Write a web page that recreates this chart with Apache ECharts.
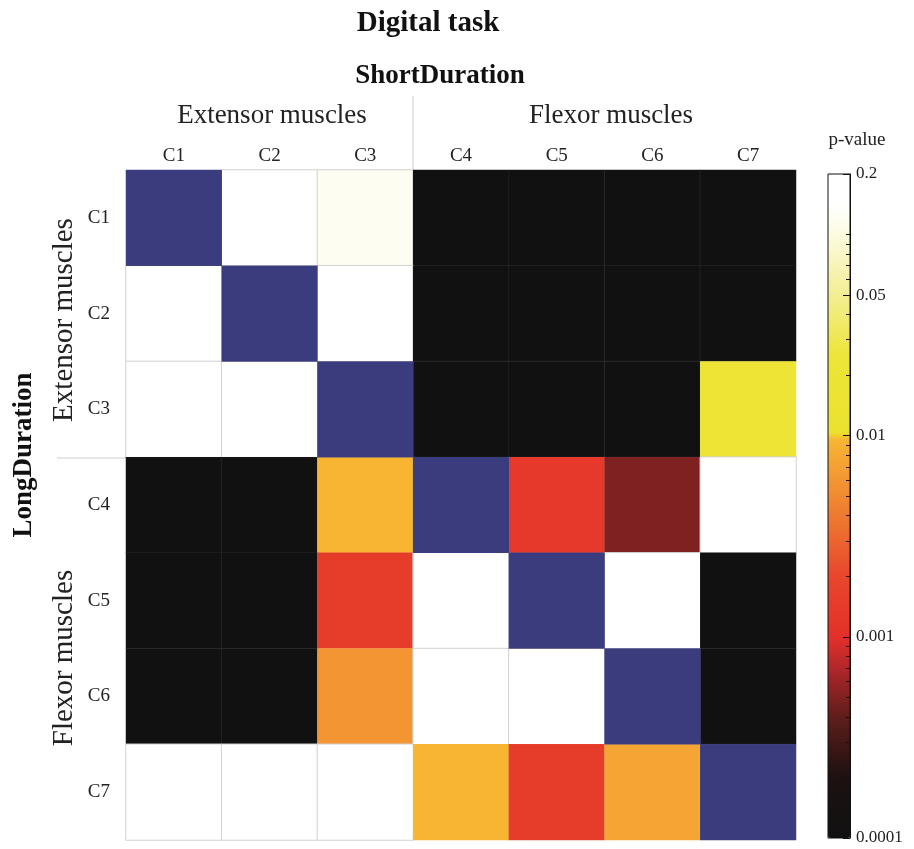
<!DOCTYPE html>
<html>
<head>
<meta charset="utf-8">
<script src="https://cdn.jsdelivr.net/npm/echarts@6/dist/echarts.min.js"></script>
<style>
  html, body { margin: 0; padding: 0; background: #fff; }
  #chart { width: 914px; height: 849px; }
</style>
</head>
<body>
<div id="chart"></div>
<script>
// ShortDuration (columns) vs LongDuration (rows) components
const shortCols = ['C1', 'C2', 'C3', 'C4', 'C5', 'C6', 'C7'];
const longRows = ['C1', 'C2', 'C3', 'C4', 'C5', 'C6', 'C7'];

// p-values, row = LongDuration, col = ShortDuration
// null = diagonal (same component)
const pRow1 = [null, 0.2, 0.12, 0.0001, 0.0001, 0.0001, 0.0001];
const pRow2 = [0.2, null, 0.2, 0.0001, 0.0001, 0.0001, 0.0001];
const pRow3 = [0.2, 0.2, null, 0.0001, 0.0001, 0.0001, 0.02];
const pRow4 = [0.0001, 0.0001, 0.0095, null, 0.0013, 0.0005, 0.2];
const pRow5 = [0.0001, 0.0001, 0.0015, 0.2, null, 0.2, 0.0001];
const pRow6 = [0.0001, 0.0001, 0.006, 0.2, 0.2, null, 0.0001];
const pRow7 = [0.2, 0.2, 0.2, 0.0095, 0.0015, 0.0075, null];
const pRows = [pRow1, pRow2, pRow3, pRow4, pRow5, pRow6, pRow7];

// colorbar
const pMin = 0.0001;
const pMax = 0.2;
const cbarLabels = [0.2, 0.05, 0.01, 0.001, 0.0001];

const FONT = 'Liberation Serif';
const LOG_MIN = Math.log10(pMin);
const LOG_MAX = Math.log10(pMax);

// colormap anchors in log10(p)
const cmapStops = [
  [-4.0, '#111111'],
  [-3.7, '#1c1111'],
  [-3.4, '#5e1d1b'],
  [-3.15, '#b3272a'],
  [-3.0, '#e43029'],
  [-2.7, '#e8462d'],
  [-2.4, '#ee7a30'],
  [-2.15, '#f4a133'],
  [-2.005, '#f8b832'],
  [-1.995, '#ebe22f'],
  [-1.6, '#ede538'],
  [-1.3, '#f3ee94'],
  [-1.0, '#fcfbe0'],
  [-0.85, '#ffffff'],
  [LOG_MAX, '#ffffff']
];

function hex2rgb(h) {
  return [parseInt(h.slice(1, 3), 16), parseInt(h.slice(3, 5), 16), parseInt(h.slice(5, 7), 16)];
}
function sampleCmap(n) {
  const out = [];
  for (let i = 0; i < n; i++) {
    const v = LOG_MIN + (LOG_MAX - LOG_MIN) * i / (n - 1);
    let k = 0;
    while (k < cmapStops.length - 2 && v > cmapStops[k + 1][0]) k++;
    const [v0, c0] = cmapStops[k];
    const [v1, c1] = cmapStops[k + 1];
    const t = Math.min(1, Math.max(0, (v - v0) / (v1 - v0)));
    const a = hex2rgb(c0), b = hex2rgb(c1);
    const c = a.map((x, j) => Math.round(x + (b[j] - x) * t));
    out.push('rgb(' + c.join(',') + ')');
  }
  return out;
}

const cellData = [];
const diagData = [];
pRows.forEach((row, r) => {
  row.forEach((p, c) => {
    if (p === null) {
      diagData.push([c, r, 0]);
    } else {
      const white = p >= 0.1;
      cellData.push({
        value: [c, r, Math.log10(p)],
        itemStyle: {
          borderColor: white ? '#d2d2d2' : 'rgba(255,255,255,0.05)',
          borderWidth: 1
        }
      });
    }
  });
});

// ticks for the colorbar
const majorTicks = cbarLabels.map(v => Math.log10(v));
const minorTicks = [];
for (let d = -4; d <= -1; d++) {
  for (let k = 1; k <= 9; k++) {
    const v = k * Math.pow(10, d);
    if (v > pMin && v < pMax && cbarLabels.indexOf(parseFloat(v.toPrecision(3))) < 0) {
      minorTicks.push(Math.log10(v));
    }
  }
}

const CB_LEFT = 828, CB_TOP = 174, CB_W = 22, CB_H = 664;

const chart = echarts.init(document.getElementById('chart'));

const option = {
  backgroundColor: '#ffffff',
  animation: false,
  grid: [
    { left: 126, top: 170, width: 670, height: 670 },
    { left: CB_LEFT, top: CB_TOP, width: CB_W, height: CB_H, show: true, borderColor: '#111', borderWidth: 1, backgroundColor: 'transparent', z: 10 },
    { left: CB_LEFT, top: CB_TOP, width: CB_W, height: CB_H }
  ],
  xAxis: [
    {
      type: 'category', data: shortCols, position: 'top', gridIndex: 0,
      axisLine: { show: false }, axisTick: { show: false }, splitLine: { show: false },
      axisLabel: { fontFamily: FONT, fontSize: 19, color: '#222', margin: 4 }
    },
    { type: 'value', gridIndex: 1, show: false, min: 0, max: 1 },
    { type: 'value', gridIndex: 2, show: false, min: 0, max: 1 }
  ],
  yAxis: [
    {
      type: 'category', data: longRows, inverse: true, gridIndex: 0,
      axisLine: { show: false }, axisTick: { show: false }, splitLine: { show: false },
      axisLabel: { fontFamily: FONT, fontSize: 19, color: '#222', margin: 16 }
    },
    {
      type: 'value', gridIndex: 1, min: LOG_MIN, max: LOG_MAX, position: 'right', z: 10,
      axisLine: { show: true, onZero: false, lineStyle: { color: '#111', width: 1 } },
      axisTick: { show: true, inside: true, length: 7, customValues: majorTicks, lineStyle: { color: '#111' } },
      splitLine: { show: false },
      axisLabel: {
        show: true, customValues: majorTicks, margin: 6,
        fontFamily: FONT, fontSize: 17, color: '#222',
        formatter: function (v) {
          let best = cbarLabels[0];
          cbarLabels.forEach(l => { if (Math.abs(Math.log10(l) - v) < Math.abs(Math.log10(best) - v)) best = l; });
          return String(best);
        }
      }
    },
    {
      type: 'value', gridIndex: 2, min: LOG_MIN, max: LOG_MAX, position: 'right', z: 10,
      axisLine: { show: false, onZero: false },
      axisTick: { show: true, inside: true, length: 4, customValues: minorTicks, lineStyle: { color: '#111' } },
      splitLine: { show: false },
      axisLabel: { show: false }
    }
  ],
  visualMap: {
    type: 'continuous',
    seriesIndex: 0,
    dimension: 2,
    min: LOG_MIN,
    max: LOG_MAX,
    orient: 'vertical',
    left: CB_LEFT,
    top: CB_TOP,
    itemWidth: CB_W,
    itemHeight: CB_H,
    padding: 0,
    calculable: false,
    hoverLink: false,
    text: null,
    inRange: { color: sampleCmap(240) },
    z: 2
  },
  graphic: [
    { type: 'text', style: { text: 'Digital task', x: 428, y: 24, align: 'center', verticalAlign: 'middle', font: 'bold 29px "' + FONT + '"', fill: '#111' } },
    { type: 'text', style: { text: 'ShortDuration', x: 440, y: 76, align: 'center', verticalAlign: 'middle', font: 'bold 27px "' + FONT + '"', fill: '#111' } },
    { type: 'text', style: { text: 'Extensor muscles', x: 272, y: 116, align: 'center', verticalAlign: 'middle', font: '27px "' + FONT + '"', fill: '#222' } },
    { type: 'text', style: { text: 'Flexor muscles', x: 611, y: 116, align: 'center', verticalAlign: 'middle', font: '27px "' + FONT + '"', fill: '#222' } },
    { type: 'text', style: { text: 'p-value', x: 857, y: 140, align: 'center', verticalAlign: 'middle', font: '19px "' + FONT + '"', fill: '#222' } },
    { type: 'text', x: 24, y: 455, rotation: Math.PI / 2, style: { text: 'LongDuration', x: 0, y: 0, align: 'center', verticalAlign: 'middle', font: 'bold 27px "' + FONT + '"', fill: '#111' } },
    { type: 'text', x: 64, y: 320, rotation: Math.PI / 2, style: { text: 'Extensor muscles', x: 0, y: 0, align: 'center', verticalAlign: 'middle', font: '29px "' + FONT + '"', fill: '#222' } },
    { type: 'text', x: 64, y: 658, rotation: Math.PI / 2, style: { text: 'Flexor muscles', x: 0, y: 0, align: 'center', verticalAlign: 'middle', font: '29px "' + FONT + '"', fill: '#222' } },
    { type: 'line', shape: { x1: 413, y1: 96, x2: 413, y2: 170 }, style: { stroke: '#cccccc', lineWidth: 1 } },
    { type: 'line', shape: { x1: 57, y1: 458, x2: 126, y2: 458 }, style: { stroke: '#cccccc', lineWidth: 1 } }
  ],
  series: [
    {
      name: 'p-value', type: 'heatmap', xAxisIndex: 0, yAxisIndex: 0,
      data: cellData,
      emphasis: { disabled: true }
    },
    {
      name: 'diagonal', type: 'heatmap', xAxisIndex: 0, yAxisIndex: 0,
      data: diagData,
      itemStyle: { color: '#3b3c7e', borderColor: 'rgba(255,255,255,0.05)', borderWidth: 1 },
      emphasis: { disabled: true }
    }
  ]
};

chart.setOption(option);
</script>
</body>
</html>
